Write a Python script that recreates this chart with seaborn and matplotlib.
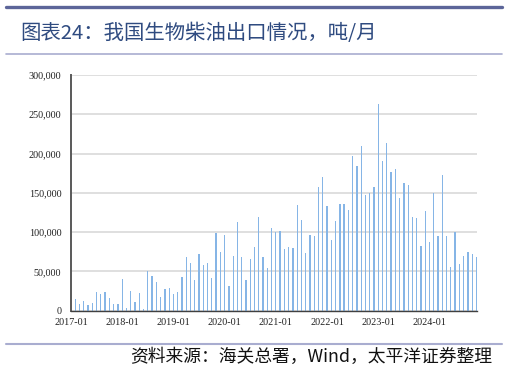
import numpy as np
import pandas as pd
import matplotlib
matplotlib.use('Agg')
import matplotlib.pyplot as plt
import seaborn as sns
from matplotlib.lines import Line2D
from matplotlib.ticker import FuncFormatter

# 月度出口量（吨），2017-02 起，月份偏移量以 2017-01 为 0
month_offset = list(range(1, 96))
export_kt = [
    15, 9, 12.8, 6.8, 10, 23.5, 21, 24, 16, 8.5, 9, 40,
    4, 25, 11.5, 23, 2.5, 50, 44.5, 36, 17, 28, 29.5, 21.8,
    23.4, 42.9, 68.8, 60.3, 39.5, 72.2, 58.6, 60.7, 41.6, 99.4, 74.3, 96.4,
    31.8, 69.2, 113, 68, 38.6, 65.4, 81.5, 119.3, 68, 54, 105.7, 100.2,
    100.8, 78.8, 80.9, 80, 133.9, 116, 73.7, 96.2, 94.9, 158, 170.3, 133.5,
    89.8, 114, 136.4, 135.6, 128, 196.6, 183.9, 209.3, 147.5, 150.4, 156.8, 262.7,
    190.3, 213.1, 177.1, 180.5, 143.6, 163.1, 159.7, 119.1, 117.4, 82.2, 126.7, 87.7,
    150.4, 94.9, 172.5, 94.9, 55.9, 100, 59.3, 69, 74.2, 72.5, 68.6,
]
export_t = [v * 1000 for v in export_kt]

year_ticks = [0, 12, 24, 36, 48, 60, 72, 84]
year_labels = ['2017-01', '2018-01', '2019-01', '2020-01',
               '2021-01', '2022-01', '2023-01', '2024-01']

df = pd.DataFrame({'month': month_offset, 'export': export_t})

sns.set_style('white')
plt.rcParams['font.family'] = ['Noto Sans CJK SC', 'DejaVu Sans']
plt.rcParams['axes.unicode_minus'] = False

fig = plt.figure(figsize=(5.07, 3.71), dpi=100)
ax = fig.add_axes([0.140, 0.1625, 0.8014, 0.6355])

bar_color = '#86B5E6'
sns.barplot(data=df, x='month', y='export', native_scale=True, width=0.3,
            color=bar_color, saturation=1, linewidth=0, edgecolor=bar_color, ax=ax)

ax.set_xlim(0, 95.2)
ax.set_ylim(0, 300000)
ax.set_yticks(np.arange(0, 300001, 50000))
ax.yaxis.set_major_formatter(FuncFormatter(lambda v, p: f'{int(v):,}'))
ax.set_xticks(year_ticks)
ax.set_xticklabels(year_labels)
ax.set_xlabel('')
ax.set_ylabel('')

ax.yaxis.grid(True, color='#D9D9D9', linewidth=1.2)
ax.set_axisbelow(True)
for s in ['top', 'right']:
    ax.spines[s].set_visible(False)
ax.spines['left'].set_color('#595959')
ax.spines['left'].set_linewidth(1.4)
ax.spines['bottom'].set_color('#404040')
ax.spines['bottom'].set_linewidth(1.0)

ax.tick_params(axis='y', direction='out', length=3, width=1, color='#595959',
               pad=4, labelsize=7.3, labelcolor='#222222')
ax.tick_params(axis='x', direction='inout', length=4, width=1, color='#404040',
               pad=3, labelsize=7.3, labelcolor='#222222')
for lab in ax.get_xticklabels() + ax.get_yticklabels():
    lab.set_fontfamily('Liberation Serif')

# 标题与装饰线
fig.add_artist(Line2D([0.012, 0.99], [1 - 6.8 / 371] * 2, transform=fig.transFigure,
                      color='#5C6599', linewidth=2.4))
fig.add_artist(Line2D([0.012, 0.99], [1 - 54.3 / 371] * 2, transform=fig.transFigure,
                      color='#A9ADD0', linewidth=1.2))
fig.add_artist(Line2D([0.012, 0.99], [1 - 344 / 371] * 2, transform=fig.transFigure,
                      color='#A9ADD0', linewidth=1.5))

fig.text(20 / 507, 1 - 33 / 371, '图表24：我国生物柴油出口情况，吨/月',
         fontsize=14.7, color='#2F4B80', va='center', ha='left', fontweight='light')
fig.text(492 / 507, 1 - 357 / 371, '资料来源：海关总署，Wind，太平洋证券整理',
         fontsize=12.8, color='#111111', va='center', ha='right')

fig.savefig('out.png', dpi=100)
